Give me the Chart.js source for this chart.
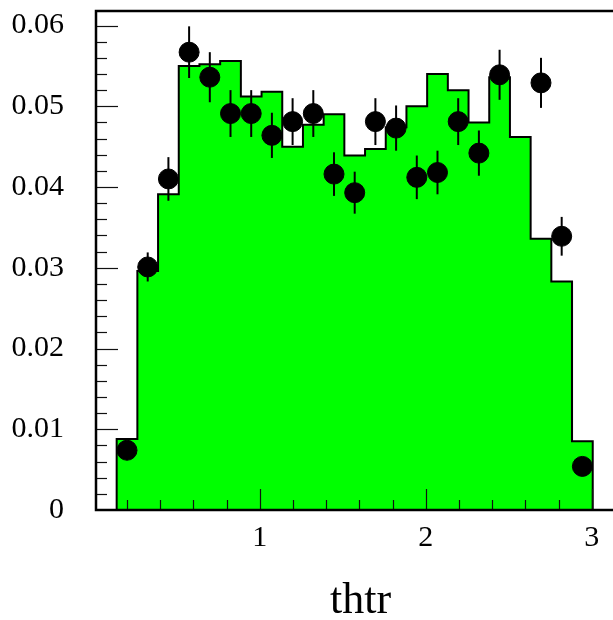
<!DOCTYPE html>
<html>
<head>
<meta charset="utf-8">
<script src="https://cdn.jsdelivr.net/npm/chart.js@4.4.0/dist/chart.umd.min.js"></script>
<style>
  html, body { margin: 0; padding: 0; background: #fff; overflow: hidden; }
  canvas { display: block; }
</style>
</head>
<body>
<canvas id="myChart" width="640" height="620"></canvas>
<script>
// thtr binning: 23 filled bins
let binEdges = [0.1375, 0.2622, 0.3869, 0.5116, 0.6363, 0.7610, 0.8857, 1.0104,
                1.1351, 1.2598, 1.3845, 1.5092, 1.6339, 1.7586, 1.8833, 2.0080,
                2.1327, 2.2574, 2.3821, 2.5068, 2.6315, 2.7562, 2.8809, 3.0056];
// green histogram (MC)
let histValues = [0.0088, 0.0296, 0.0391, 0.0550, 0.0552, 0.0556, 0.0512, 0.0518,
                  0.0450, 0.0477, 0.0490, 0.0439, 0.0447, 0.0474, 0.0500, 0.0540,
                  0.0520, 0.0480, 0.0536, 0.0462, 0.0336, 0.0283, 0.0085];
// data points and their errors (null = empty bin)
let dataValues = [0.0074, 0.0301, 0.0410, 0.0567, 0.0536, 0.0491, 0.0491, 0.0464,
                  0.0481, 0.0491, 0.0416, 0.0393, 0.0481, 0.0473, 0.0412, 0.0418,
                  0.0481, 0.0442, 0.0539, null, 0.0529, 0.0339, 0.0054];
let dataErrors = [0.0010, 0.0018, 0.0027, 0.0032, 0.0031, 0.0029, 0.0029, 0.0028,
                  0.0029, 0.0029, 0.0027, 0.0026, 0.0029, 0.0028, 0.0027, 0.0027,
                  0.0029, 0.0028, 0.0031, null, 0.0031, 0.0024, 0.0010];
let xTitle = 'thtr';

let serif = '"Liberation Serif", "DejaVu Serif", serif';

let histPoints = [{x: binEdges[0], y: 0}];
histValues.forEach((v, i) => histPoints.push({x: binEdges[i], y: v}));
histPoints.push({x: binEdges[binEdges.length - 1], y: 0});

let dataPoints = [];
dataValues.forEach((v, i) => {
  if (v === null) return;
  dataPoints.push({x: (binEdges[i] + binEdges[i + 1]) / 2, y: v, err: dataErrors[i]});
});

// error bars, inside ticks and frame, ROOT style
let rootAxes = {
  id: 'rootAxes',
  afterDatasetsDraw(chart) {
    let c = chart.ctx, xs = chart.scales.x, ys = chart.scales.y, a = chart.chartArea;
    c.save();
    c.strokeStyle = '#000';
    c.lineWidth = 2;
    dataPoints.forEach(p => {
      let px = xs.getPixelForValue(p.x);
      c.beginPath();
      c.moveTo(px, ys.getPixelForValue(p.y - p.err));
      c.lineTo(px, ys.getPixelForValue(p.y + p.err));
      c.stroke();
    });

    c.lineWidth = 1.2;
    c.strokeStyle = '#111';
    for (let i = 1; i * 0.002 <= ys.max; i++) {
      let y = Math.round(ys.getPixelForValue(i * 0.002)) + 0.5;
      let len = i % 5 === 0 ? 22 : 11;
      c.beginPath(); c.moveTo(a.left, y); c.lineTo(a.left + len, y); c.stroke();
    }
    for (let i = 1; i * 0.2 <= xs.max; i++) {
      let x = Math.round(xs.getPixelForValue(i * 0.2)) + 0.5;
      let len = i % 5 === 0 ? 21 : 10;
      c.beginPath(); c.moveTo(x, a.bottom); c.lineTo(x, a.bottom - len); c.stroke();
    }

    c.lineWidth = 2.5;
    c.strokeStyle = '#000';
    c.strokeRect(a.left, a.top, a.right - a.left, a.bottom - a.top);
    c.restore();
  }
};

let ctx = document.getElementById('myChart');
let myChart = new Chart(ctx, {
  type: 'scatter',
  data: {
    datasets: [{
      label: 'data',
      data: dataPoints,
      order: 0,
      pointRadius: 10,
      pointBorderWidth: 1,
      pointBackgroundColor: '#000',
      pointBorderColor: '#000',
      showLine: false
    }, {
      type: 'line',
      label: 'hist',
      data: histPoints,
      order: 1,
      stepped: 'before',
      fill: 'origin',
      backgroundColor: '#00ff00',
      borderColor: '#000',
      borderWidth: 2,
      pointRadius: 0,
      tension: 0
    }]
  },
  options: {
    responsive: false,
    animation: false,
    events: [],
    layout: { padding: { top: 11, right: 15, bottom: 0, left: 0 } },
    plugins: { legend: { display: false }, tooltip: { enabled: false } },
    scales: {
      x: {
        type: 'linear',
        min: 0.013,
        max: 3.2,
        grid: { display: false, drawTicks: false },
        border: { display: false },
        ticks: {
          stepSize: 1,
          includeBounds: false,
          padding: 10,
          color: '#000',
          font: { family: serif, size: 30 },
          callback: v => String(Math.round(v))
        },
        title: {
          display: true,
          text: xTitle,
          color: '#000',
          font: { family: serif, size: 44, lineHeight: 1 },
          padding: { top: 0, bottom: -3 }
        },
        afterFit: s => { s.height = 110; s.paddingLeft = 0; s.paddingRight = 0; }
      },
      y: {
        min: 0,
        max: 0.0618,
        grid: { display: false, drawTicks: false },
        border: { display: false },
        ticks: {
          stepSize: 0.01,
          includeBounds: false,
          padding: 32,
          color: '#000',
          font: { family: serif, size: 30 },
          callback: v => Math.abs(v) < 1e-9 ? '0' : v.toFixed(2)
        },
        afterFit: s => { s.width = 96; s.paddingTop = 0; s.paddingBottom = 0; }
      }
    }
  },
  plugins: [rootAxes]
});
</script>
</body>
</html>
